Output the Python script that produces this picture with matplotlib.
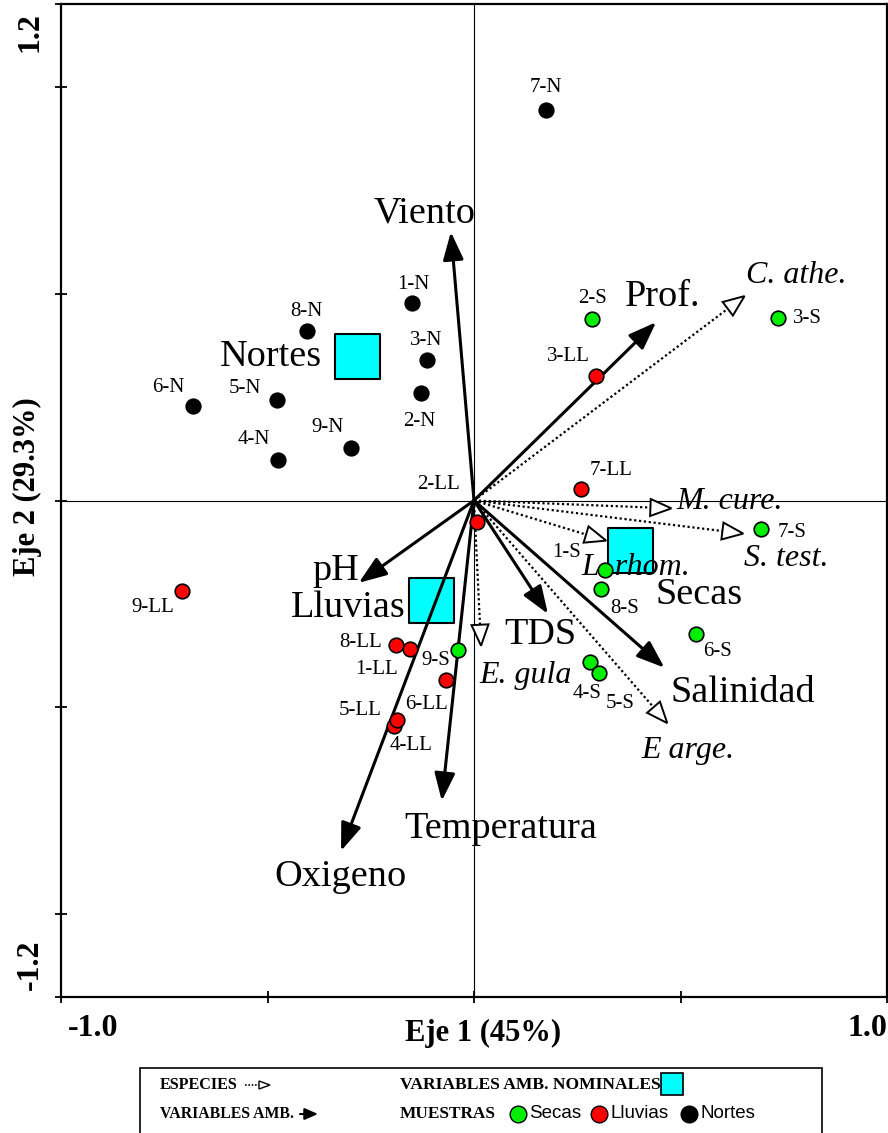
import numpy as np
import matplotlib
matplotlib.use('Agg')
import matplotlib.pyplot as plt
from matplotlib.patches import Polygon, Rectangle, FancyArrowPatch
from matplotlib.lines import Line2D
import matplotlib.transforms as mtransforms

# ---------------- data ----------------
nortes_labels = ['1-N', '2-N', '3-N', '4-N', '5-N', '6-N', '7-N', '8-N', '9-N']
nortes_x = [-0.150, -0.128, -0.114, -0.475, -0.478, -0.681, 0.175, -0.405, -0.298]
nortes_y = [0.477, 0.259, 0.339, 0.099, 0.242, 0.228, 0.944, 0.409, 0.128]

secas_labels = ['1-S', '2-S', '3-S', '4-S', '5-S', '6-S', '7-S', '8-S', '9-S']
secas_x = [0.318, 0.286, 0.737, 0.281, 0.303, 0.538, 0.696, 0.308, -0.039]
secas_y = [-0.169, 0.438, 0.441, -0.390, -0.416, -0.322, -0.068, -0.215, -0.361]

lluvias_labels = ['1-LL', '2-LL', '3-LL', '4-LL', '5-LL', '6-LL', '7-LL', '8-LL', '9-LL']
lluvias_x = [-0.155, 0.007, 0.296, -0.194, -0.187, -0.068, 0.259, -0.189, -0.708]
lluvias_y = [-0.358, -0.053, 0.300, -0.545, -0.530, -0.433, 0.027, -0.349, -0.218]

env_names = ['Viento', 'Prof.', 'pH', 'TDS', 'Salinidad', 'Temperatura', 'Oxigeno']
env_x = [-0.056, 0.441, -0.279, 0.179, 0.461, -0.078, -0.322]
env_y = [0.649, 0.431, -0.199, -0.274, -0.404, -0.726, -0.847]

species_names = ['C. athe.', 'M. cure.', 'S. test.', 'L. rhom.', 'E. gula', 'E arge.']
species_x = [0.655, 0.478, 0.652, 0.320, 0.017, 0.468]
species_y = [0.494, -0.019, -0.080, -0.097, -0.351, -0.538]

nominal_names = ['Nortes', 'Secas', 'Lluvias']
nominal_x = [-0.284, 0.378, -0.104]
nominal_y = [0.349, -0.119, -0.240]

legend_samples = ['Secas', 'Lluvias', 'Nortes']

# ---------------- label offsets (pixels) ----------------
off_n = [(1, 19), (-2, -28), (-1, 20), (-24, 20), (-32, 12), (-24, 19), (0, 22), (0, 20), (-23, 20)]
off_s = [(-39, 18), (0, 21), (29, 0), (-3, -32), (21, -31), (21, -18), (31, -4), (23, -19), (-22, -11)]
off_ll = [(-33, -21), (-38, 38), (-28, 20), (17, -20), (-37, 9), (-19, -25), (30, 19), (-35, 2), (-29, -17)]
off_env = [(-26, 19), (6, 25), (-23, 12), (-8, -21), (78, -25), (59, -28), (-1, -26)]
off_sp = [(52, 21), (58, 7), (43, -25), (30, -27), (45, -30), (21, -27)]
off_nom = [(-86, -1), (69, -45), (-83, -8)]

SERIF = 'Liberation Serif'
SANS = 'Liberation Sans'
W, H = 888, 1133

fig = plt.figure(figsize=(W / 100, H / 100), dpi=100)
ax = fig.add_axes([61 / W, 1 - 997 / H, 826 / W, 993 / H])
ax.set_xlim(-1.0, 1.0)
ax.set_ylim(-1.2, 1.2)
ax.set_xticks([-1.0, -0.5, 0.0, 0.5, 1.0])
ax.set_yticks([-1.2, -1.0, -0.5, 0.0, 0.5, 1.0, 1.2])
ax.set_xticklabels([])
ax.set_yticklabels([])
ax.tick_params(direction='inout', length=8, width=1.3)
for sp in ax.spines.values():
    sp.set_linewidth(1.6)

ax.axhline(0, color='black', lw=0.8, zorder=1)
ax.axvline(0, color='black', lw=0.8, zorder=1)

# nominal squares
ax.scatter(nominal_x, nominal_y, marker='s', s=(45 * 0.72) ** 2, facecolor='#00FFFF',
           edgecolor='black', linewidth=1.5, zorder=2)
for name, x, y, (dx, dy) in zip(nominal_names, nominal_x, nominal_y, off_nom):
    ax.annotate(name, (x, y), xytext=(dx, dy), textcoords='offset pixels', ha='center',
                va='center', fontsize=27.5, family=SERIF, zorder=5)

# environmental arrows
for name, x, y, (dx, dy) in zip(env_names, env_x, env_y, off_env):
    arr = FancyArrowPatch(posA=(0, 0), posB=(x, y),
                          arrowstyle='-|>,head_length=17,head_width=6.3',
                          mutation_scale=1, lw=2.2, color='black',
                          shrinkA=0, shrinkB=0, zorder=3)
    ax.add_patch(arr)
    ax.annotate(name, (x, y), xytext=(dx, dy), textcoords='offset pixels', ha='center',
                va='center', fontsize=27.5, family=SERIF, zorder=5)


# species arrows (dotted with open heads)
def open_head(tip, length=21, halfw=8.5):
    p0 = ax.transData.transform((0.0, 0.0))
    p1 = ax.transData.transform(tip)
    d = p1 - p0
    d = d / np.hypot(*d)
    nrm = np.array([-d[1], d[0]])
    base = p1 - d * length
    verts = np.array([p1, base + nrm * halfw, base - nrm * halfw])
    poly = Polygon(verts, closed=True, fc='white', ec='black', lw=1.4,
                   transform=mtransforms.IdentityTransform(), zorder=4)
    ax.add_artist(poly)
    return ax.transData.inverted().transform(base)


for name, x, y, (dx, dy) in zip(species_names, species_x, species_y, off_sp):
    b = open_head((x, y))
    ax.plot([0, b[0]], [0, b[1]], color='black', lw=1.6, ls=(0, (1, 1.2)), zorder=3)
    ax.annotate(name, (x, y), xytext=(dx, dy), textcoords='offset pixels', ha='center',
                va='center', fontsize=23, family=SERIF, style='italic', zorder=5)

# samples
groups = [(nortes_x, nortes_y, nortes_labels, off_n, 'black'),
          (secas_x, secas_y, secas_labels, off_s, '#00EE00'),
          (lluvias_x, lluvias_y, lluvias_labels, off_ll, '#FF0000')]
for xs, ys, labs, offs, col in groups:
    ax.plot(xs, ys, ls='none', marker='o', ms=10.5, mfc=col, mec='black', mew=1.2, zorder=6)
    for lab, x, y, (dx, dy) in zip(labs, xs, ys, offs):
        ax.annotate(lab, (x, y), xytext=(dx, dy), textcoords='offset pixels', ha='center',
                    va='center', fontsize=15, family=SERIF, zorder=5)


# ---------------- axis texts ----------------
def ftext(px, py, s, **kw):
    fig.text(px / W, 1 - py / H, s, ha='center', va='center', family=SERIF, **kw)


ftext(93, 1029, '-1.0', fontsize=23, fontweight='bold')
ftext(867, 1029, '1.0', fontsize=23, fontweight='bold')
ftext(30, 32, '1.2', fontsize=23, fontweight='bold', rotation=90)
ftext(30, 965, '-1.2', fontsize=23, fontweight='bold', rotation=90)
ftext(483, 1033, 'Eje 1 (45%)', fontsize=22, fontweight='bold')
ftext(27, 487, 'Eje 2 (29.3%)', fontsize=22, fontweight='bold', rotation=90)

# ---------------- legend box ----------------
fig.add_artist(Rectangle((140 / W, -0.02), (822 - 140) / W, 0.02 + 1 - 1068 / H,
                         transform=fig.transFigure, fill=False, ec='black', lw=1.2))


def ltext(px, py, s, **kw):
    fig.text(px / W, 1 - py / H, s, ha='left', va='center', **kw)


R1, R2 = 1085, 1114
ltext(160, R1, 'ESPECIES', fontsize=11.6, fontweight='bold', family=SERIF)
ltext(160, R2, 'VARIABLES AMB.', fontsize=11.3, fontweight='bold', family=SERIF)
ltext(400, R1, 'VARIABLES AMB. NOMINALES', fontsize=12.6, fontweight='bold', family=SERIF)
ltext(400, R2, 'MUESTRAS', fontsize=12.4, fontweight='bold', family=SERIF)

ff = fig.transFigure
# species legend arrow
fig.add_artist(Line2D([245 / W, 259 / W], [1 - R1 / H] * 2, transform=ff, color='black',
                      lw=1.2, ls=(0, (1, 1))))
fig.add_artist(Polygon([[270 / W, 1 - R1 / H], [259 / W, 1 - (R1 - 4) / H], [259 / W, 1 - (R1 + 4) / H]],
                       closed=True, transform=ff, fc='white', ec='black', lw=1.0))
# env legend arrow
fig.add_artist(FancyArrowPatch(posA=(300 / W, 1 - R2 / H), posB=(318 / W, 1 - R2 / H),
                               transform=ff, arrowstyle='-|>,head_length=8,head_width=3.5',
                               mutation_scale=1, lw=1.5, color='black', shrinkA=0, shrinkB=0))
# nominal square
fig.add_artist(Line2D([672 / W], [1 - (R1 - 1) / H], transform=ff, marker='s', ms=16.5,
                      mfc='#00FFFF', mec='black', mew=1.2, ls='none'))
# sample markers
for px, col, lab in zip([518, 599, 689], ['#00EE00', '#FF0000', 'black'], legend_samples):
    fig.add_artist(Line2D([px / W], [1 - R2 / H], transform=ff, marker='o', ms=12,
                          mfc=col, mec='black', mew=1.0, ls='none'))
    ltext(px + 11, R2, lab, fontsize=13.5, family=SANS)

fig.savefig('out.png', dpi=100)
